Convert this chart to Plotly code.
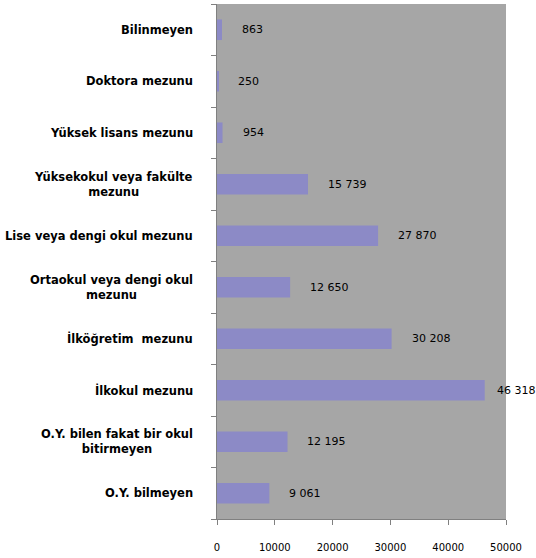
import plotly.graph_objects as go

categories = [
    "O.Y. bilmeyen",
    "O.Y. bilen fakat bir okul<br>bitirmeyen",
    "İlkokul mezunu",
    "İlköğretim  mezunu",
    "Ortaokul veya dengi okul<br>mezunu",
    "Lise veya dengi okul mezunu",
    "Yüksekokul veya fakülte<br>mezunu",
    "Yüksek lisans mezunu",
    "Doktora mezunu",
    "Bilinmeyen",
]
values = [9061, 12195, 46318, 30208, 12650, 27870, 15739, 954, 250, 863]
x_ticks = [0, 10000, 20000, 30000, 40000, 50000]

ids = list(range(len(categories)))

def fmt(v):
    return f"{v:,}".replace(",", " ")

fig = go.Figure(go.Bar(
    x=values, y=ids, orientation="h",
    marker=dict(color="#8c8ac6", line=dict(width=0)),
    hoverinfo="skip",
))

annotations = []
for i, (c, v) in enumerate(zip(categories, values)):
    annotations.append(dict(
        x=0, xref="paper", y=i, yref="y", text=f"<b>{c}</b>",
        xanchor="right", yanchor="middle", align="center", showarrow=False,
        xshift=-22, font=dict(family="DejaVu Sans", size=11.5, color="#000000"),
    ))
    annotations.append(dict(
        x=v, xref="x", y=i, yref="y", text=fmt(v),
        xanchor="left", yanchor="middle", showarrow=False,
        xshift=18 if v < 40000 else 10,
        font=dict(family="DejaVu Sans", size=11, color="#000000"),
    ))

fig.update_layout(
    width=536, height=558,
    margin=dict(l=217, r=30, t=4, b=39),
    paper_bgcolor="#ffffff",
    plot_bgcolor="#a6a6a6",
    bargap=0.6,
    showlegend=False,
    annotations=annotations,
    xaxis=dict(
        range=[0, 50000], tickvals=x_ticks, ticktext=[str(t) for t in x_ticks],
        showgrid=False, zeroline=False, showline=True, linecolor="#808080", linewidth=1,
        ticks="outside", ticklen=5, tickcolor="#808080", ticklabelstandoff=14,
        tickfont=dict(family="DejaVu Sans", size=10, color="#000000"),
        fixedrange=True,
    ),
    yaxis=dict(
        type="linear", range=[-0.5, len(categories) - 0.5],
        tickvals=[i - 0.5 for i in range(len(categories) + 1)],
        showticklabels=False,
        showgrid=False, zeroline=False, showline=True, linecolor="#808080", linewidth=1,
        ticks="outside", ticklen=5, tickcolor="#808080",
        fixedrange=True,
    ),
)

fig.write_html(
    "out.html",
    config={"displayModeBar": False},
    post_script="document.body.style.margin='0';",
)
